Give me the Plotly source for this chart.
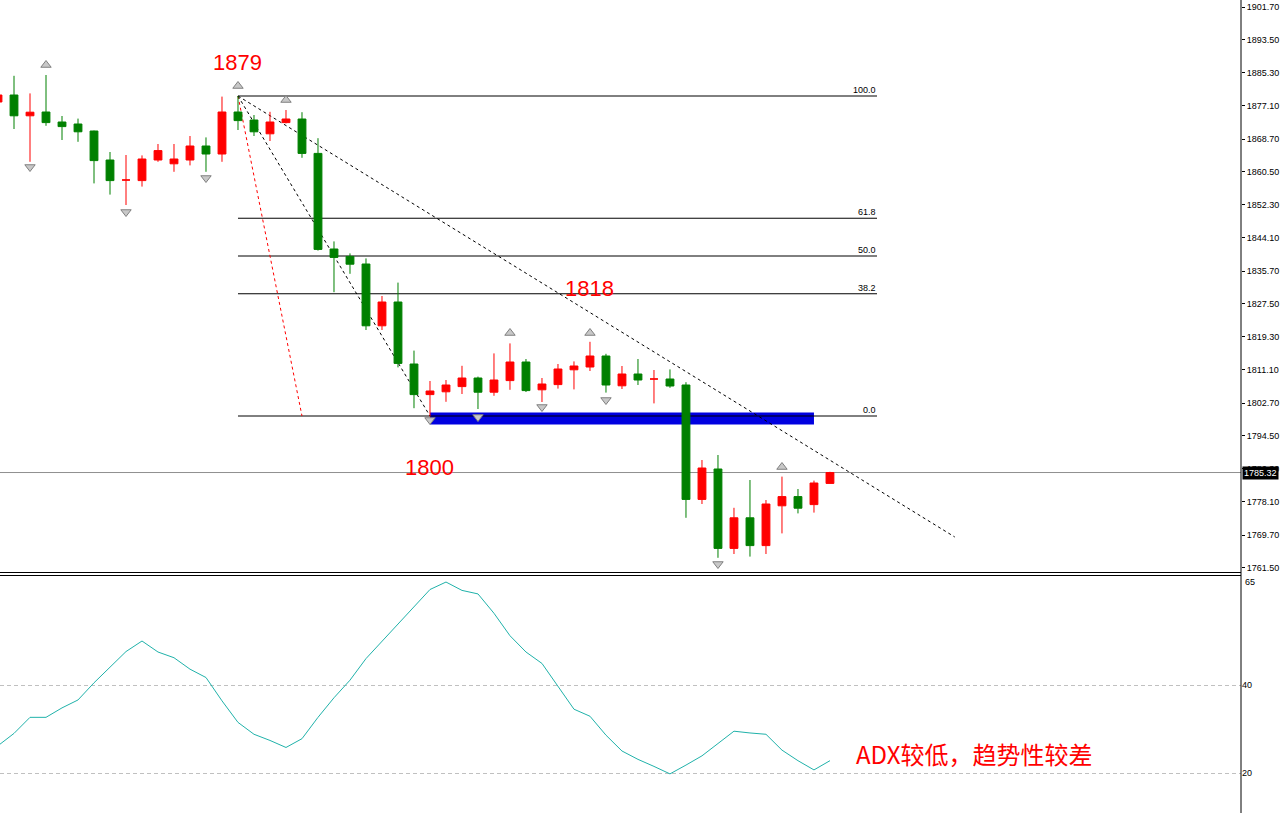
import plotly.graph_objects as go

# ---------------- data ----------------
idx = list(range(53))
opens = [1877.95, 1879.7, 1874.5, 1875.45, 1872.95, 1872.45, 1870.7, 1863.45, 1858.45, 1858.3,
         1863.45, 1862.5, 1863.45, 1866.95, 1864.95, 1875.45, 1873.45, 1870.0, 1872.8, 1873.7,
         1865.1, 1841.2, 1839.35, 1837.45, 1822.0, 1827.95, 1812.45, 1804.8, 1805.5, 1806.8,
         1808.95, 1805.4, 1808.3, 1812.95, 1806.0, 1807.3, 1811.0, 1811.7, 1814.45, 1807.0,
         1809.95, 1808.7, 1808.7, 1807.2, 1778.6, 1786.2, 1766.35, 1774.0, 1767.05, 1777.0,
         1779.3, 1777.3, 1782.6]
highs = [1880.2, 1884.5, 1880.1, 1884.7, 1874.45, 1873.8, 1870.8, 1865.45, 1864.7, 1864.6,
         1867.45, 1867.45, 1869.45, 1869.1, 1879.3, 1879.45, 1874.7, 1875.5, 1875.95, 1875.4,
         1868.9, 1843.1, 1840.1, 1838.85, 1829.45, 1832.8, 1815.8, 1808.2, 1808.45, 1812.0,
         1809.3, 1815.1, 1817.6, 1813.7, 1808.95, 1812.45, 1813.1, 1818.0, 1815.0, 1811.95,
         1813.7, 1810.95, 1811.1, 1807.9, 1788.45, 1789.7, 1776.5, 1783.45, 1778.45, 1784.3,
         1781.2, 1783.3, 1785.5]
lows = [1877.5, 1871.2, 1863.0, 1872.0, 1868.45, 1868.0, 1857.6, 1854.8, 1852.2, 1856.8,
        1863.0, 1860.5, 1862.1, 1860.5, 1863.0, 1870.95, 1869.45, 1868.2, 1872.6, 1864.0,
        1840.8, 1830.4, 1835.0, 1820.95, 1820.95, 1811.6, 1801.4, 1799.3, 1803.0, 1804.95,
        1801.2, 1804.5, 1806.0, 1805.45, 1802.95, 1806.3, 1806.1, 1810.7, 1805.3, 1806.2,
        1807.2, 1802.6, 1806.5, 1774.0, 1777.45, 1764.0, 1764.95, 1764.3, 1764.95, 1770.1,
        1775.1, 1775.3, 1782.6]
closes = [1879.7, 1874.5, 1875.4, 1872.8, 1871.8, 1870.5, 1863.3, 1858.3, 1858.45, 1863.7,
          1865.8, 1863.7, 1866.95, 1864.95, 1875.45, 1873.3, 1870.5, 1872.95, 1873.7, 1865.1,
          1841.1, 1839.1, 1837.4, 1822.0, 1827.95, 1812.6, 1804.8, 1805.7, 1807.2, 1808.95,
          1805.4, 1808.45, 1812.95, 1805.8, 1807.45, 1811.2, 1811.95, 1814.45, 1807.2, 1809.95,
          1808.45, 1808.7, 1806.95, 1778.6, 1786.45, 1766.35, 1774.0, 1767.05, 1777.45, 1779.3,
          1776.4, 1782.7, 1785.32]

adx = [26.2, 29.0, 32.65, 32.65, 34.8, 36.6, 40.5, 44.1, 47.6, 50.0,
       47.5, 46.2, 43.6, 41.7, 36.4, 31.5, 28.8, 27.4, 25.8, 27.8,
       32.65, 37.1, 41.1, 46.0, 49.9, 53.9, 57.8, 61.7, 63.4, 61.5,
       60.7, 56.3, 51.2, 47.5, 44.9, 39.6, 34.5, 32.9, 28.6, 25.0,
       23.1, 21.5, 19.8, 21.8, 23.9, 26.7, 29.5, 29.1, 28.8, 25.2,
       22.8, 20.7, 22.8]

frac_up_x = [3, 15, 18, 32, 37, 49]
frac_up_y = [1887.2, 1881.95, 1878.45, 1820.2, 1820.2, 1786.7]
frac_dn_x = [2, 8, 13, 27, 30, 34, 38, 45]
frac_dn_y = [1861.7, 1850.45, 1858.95, 1798.45, 1799.2, 1801.7, 1803.45, 1762.45]

fib_levels = [100.0, 61.8, 50.0, 38.2, 0.0]
fib_high = 1879.45
fib_low = 1799.45
fib_x0, fib_x1 = 15, 54.94

price_ticks = [1901.70, 1893.50, 1885.30, 1877.10, 1868.70, 1860.50, 1852.30, 1844.10, 1835.70,
               1827.50, 1819.30, 1811.10, 1802.70, 1794.50, 1786.30, 1778.10, 1769.70, 1761.50]
last_price = 1785.32

zone_x = [27, 51]
zone_y = [1797.3, 1800.3]

trend_red = [(15, 1879.45), (19, 1799.45)]
trend_blk1 = [(15, 1879.45), (27, 1799.45)]
trend_blk2 = [(15, 1879.45), (59.8, 1769.2)]

labels = [("1879", 15, 1887.95), ("1818", 37, 1831.45), ("1800", 27, 1786.7)]
adx_note = ("ADX较低，趋势性较差", 61.0, 24.5)

# ---------------- figure ----------------
RED = "#ff0000"
GRN = "#008000"
fig = go.Figure()

fig.add_trace(go.Candlestick(
    x=idx, open=opens, high=highs, low=lows, close=closes,
    increasing=dict(line=dict(color=RED, width=1), fillcolor=RED),
    decreasing=dict(line=dict(color=GRN, width=1), fillcolor=GRN),
    whiskerwidth=0, hoverinfo="skip", showlegend=False, xaxis="x", yaxis="y"))

fig.add_trace(go.Scatter(
    x=frac_up_x, y=frac_up_y, mode="markers", hoverinfo="skip", showlegend=False,
    marker=dict(symbol="triangle-up", size=9, color="#c8c8c8", line=dict(color="#808080", width=1)),
    xaxis="x", yaxis="y"))
fig.add_trace(go.Scatter(
    x=frac_dn_x, y=frac_dn_y, mode="markers", hoverinfo="skip", showlegend=False,
    marker=dict(symbol="triangle-down", size=9, color="#c8c8c8", line=dict(color="#808080", width=1)),
    xaxis="x", yaxis="y"))

fig.add_trace(go.Scatter(
    x=idx, y=adx, mode="lines", line=dict(color="#20b2aa", width=1),
    hoverinfo="skip", showlegend=False, xaxis="x2", yaxis="y2"))

shapes = []
shapes.append(dict(type="rect", xref="x", yref="y", x0=zone_x[0], x1=zone_x[1],
                   y0=zone_y[0], y1=zone_y[1], fillcolor="#0000e0", line=dict(width=0), layer="below"))
for lv in fib_levels:
    p = fib_low + (fib_high - fib_low) * lv / 100.0
    shapes.append(dict(type="line", xref="x", yref="y", x0=fib_x0, x1=fib_x1, y0=p, y1=p,
                       line=dict(color="black", width=1), layer="below"))
for pts, col in [(trend_red, "#ff0000"), (trend_blk1, "black"), (trend_blk2, "black")]:
    shapes.append(dict(type="line", xref="x", yref="y", x0=pts[0][0], y0=pts[0][1],
                       x1=pts[1][0], y1=pts[1][1], line=dict(color=col, width=1, dash="3px,3px"),
                       layer="below"))
shapes.append(dict(type="line", xref="paper", yref="y", x0=0, x1=1, y0=last_price, y1=last_price,
                   line=dict(color="#909090", width=1), layer="below"))
for yy in [1 - 572.5 / 813, 1 - 575.5 / 813]:
    shapes.append(dict(type="line", xref="paper", yref="paper", x0=0, x1=1, y0=yy, y1=yy,
                       line=dict(color="black", width=1)))
shapes.append(dict(type="line", xref="paper", yref="paper", x0=1, x1=1, y0=0, y1=1,
                   line=dict(color="black", width=1)))

annotations = []
for lv in fib_levels:
    p = fib_low + (fib_high - fib_low) * lv / 100.0
    annotations.append(dict(x=fib_x1, y=p, xref="x", yref="y", text=f"{lv:.1f}", showarrow=False,
                            xanchor="right", yanchor="bottom", borderpad=0, yshift=0,
                            font=dict(family="Liberation Sans", size=9, color="black")))
for t, xx, yy in labels:
    annotations.append(dict(x=xx, y=yy, xref="x", yref="y", text=t, showarrow=False,
                            font=dict(family="Liberation Sans", size=22, color=RED)))
annotations.append(dict(x=adx_note[1], y=adx_note[2], xref="x2", yref="y2", text=adx_note[0],
                        showarrow=False,
                        font=dict(family="Noto Sans CJK SC", size=24, color=RED)))
annotations.append(dict(x=1, y=last_price, xref="paper", yref="y", text=f"{last_price:.2f}",
                        showarrow=False, xanchor="left", xshift=1, bgcolor="black", borderpad=1,
                        font=dict(family="Liberation Sans", size=9, color="white")))
annotations.append(dict(x=1, y=65, xref="paper", yref="y2", text="65", showarrow=False,
                        xanchor="left", yanchor="top", xshift=2,
                        font=dict(family="Liberation Sans", size=9, color="black")))

xr = [0.125, 77.69]
fig.update_layout(
    width=1281, height=813,
    margin=dict(l=0, r=40, t=0, b=0),
    paper_bgcolor="white", plot_bgcolor="white",
    showlegend=False,
    xaxis=dict(range=xr, showticklabels=False, showgrid=False, zeroline=False,
               rangeslider=dict(visible=False), anchor="y", fixedrange=True),
    xaxis2=dict(range=xr, showticklabels=False, showgrid=False, zeroline=False,
                anchor="y2", matches="x"),
    yaxis=dict(domain=[1 - 572 / 813, 1], range=[1760.45, 1903.45], side="right",
               tickvals=price_ticks, ticktext=[f"{v:.2f}" for v in price_ticks],
               ticks="outside", ticklen=3, tickcolor="black", showgrid=False, zeroline=False,
               showline=False, tickfont=dict(family="Liberation Sans", size=9, color="black")),
    yaxis2=dict(domain=[0, 1 - 575 / 813], range=[10.91, 65], side="right",
                tickvals=[40, 20], ticktext=["40", "20"], ticks="", showgrid=True,
                gridcolor="#c0c0c0", griddash="4px,3px", gridwidth=1, zeroline=False,
                showline=False, tickfont=dict(family="Liberation Sans", size=9, color="black")),
    shapes=shapes, annotations=annotations,
)

fig.write_html("out.html", config={"displayModeBar": False},
               post_script="document.body.style.margin='0';document.body.style.padding='0';"
                           "document.body.style.overflow='hidden';")
